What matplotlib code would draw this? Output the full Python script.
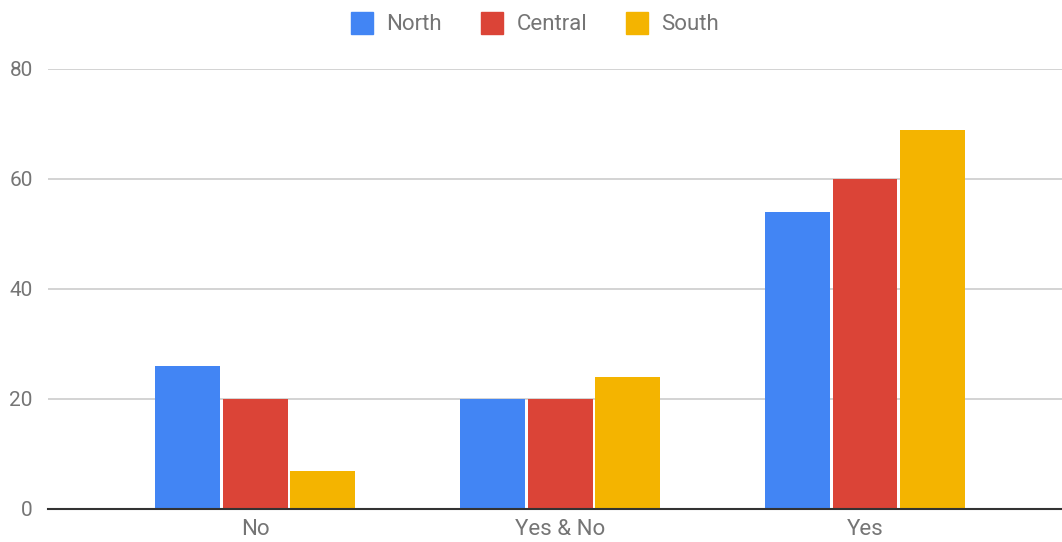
import matplotlib.pyplot as plt
import numpy as np
from matplotlib.lines import Line2D

plt.rcParams['font.family'] = ['Roboto', 'DejaVu Sans']

categories = ['No', 'Yes & No', 'Yes']
series = ['North', 'Central', 'South']
north = [26, 20, 54]
central = [20, 20, 60]
south = [7, 24, 69]
colors = ['#4285F4', '#DB4437', '#F4B400']

W, H = 1062, 542
fig = plt.figure(figsize=(W / 100, H / 100), dpi=100)
ax = fig.add_axes([48 / W, (H - 509) / H, (W - 48) / W, 440 / H])

x = np.arange(len(categories))
step = 0.22
width = 0.213
for i, (vals, c) in enumerate(zip([north, central, south], colors)):
    ax.bar(x + (i - 1) * step, vals, width, color=c, zorder=3)

ax.set_ylim(0, 80)
ax.set_xlim(-0.679, 2.646)
ax.set_yticks([0, 20, 40, 60, 80])
ax.set_xticks(x)
ax.set_xticklabels(categories)
ax.grid(axis='y', color='#cccccc', linewidth=1.2, zorder=0)
for s in ['top', 'right', 'left']:
    ax.spines[s].set_visible(False)
ax.spines['bottom'].set_color('#333333')
ax.spines['bottom'].set_linewidth(1.5)
ax.spines['bottom'].set_zorder(4)
ax.tick_params(axis='both', length=0, colors='#757575')
ax.tick_params(axis='y', pad=11, labelsize=15)
ax.tick_params(axis='x', pad=7, labelsize=16)

handles = [Line2D([], [], marker='s', linestyle='none', markersize=16,
                  markerfacecolor=c, markeredgecolor=c) for c in colors]
fig.legend(handles, series, loc='center', bbox_to_anchor=(535 / W, 1 - 25 / H),
           ncol=3, frameon=False, fontsize=16, labelcolor='#757575',
           handletextpad=0.6, columnspacing=1.75, handlelength=1.0)

fig.savefig('out.png', dpi=100)
